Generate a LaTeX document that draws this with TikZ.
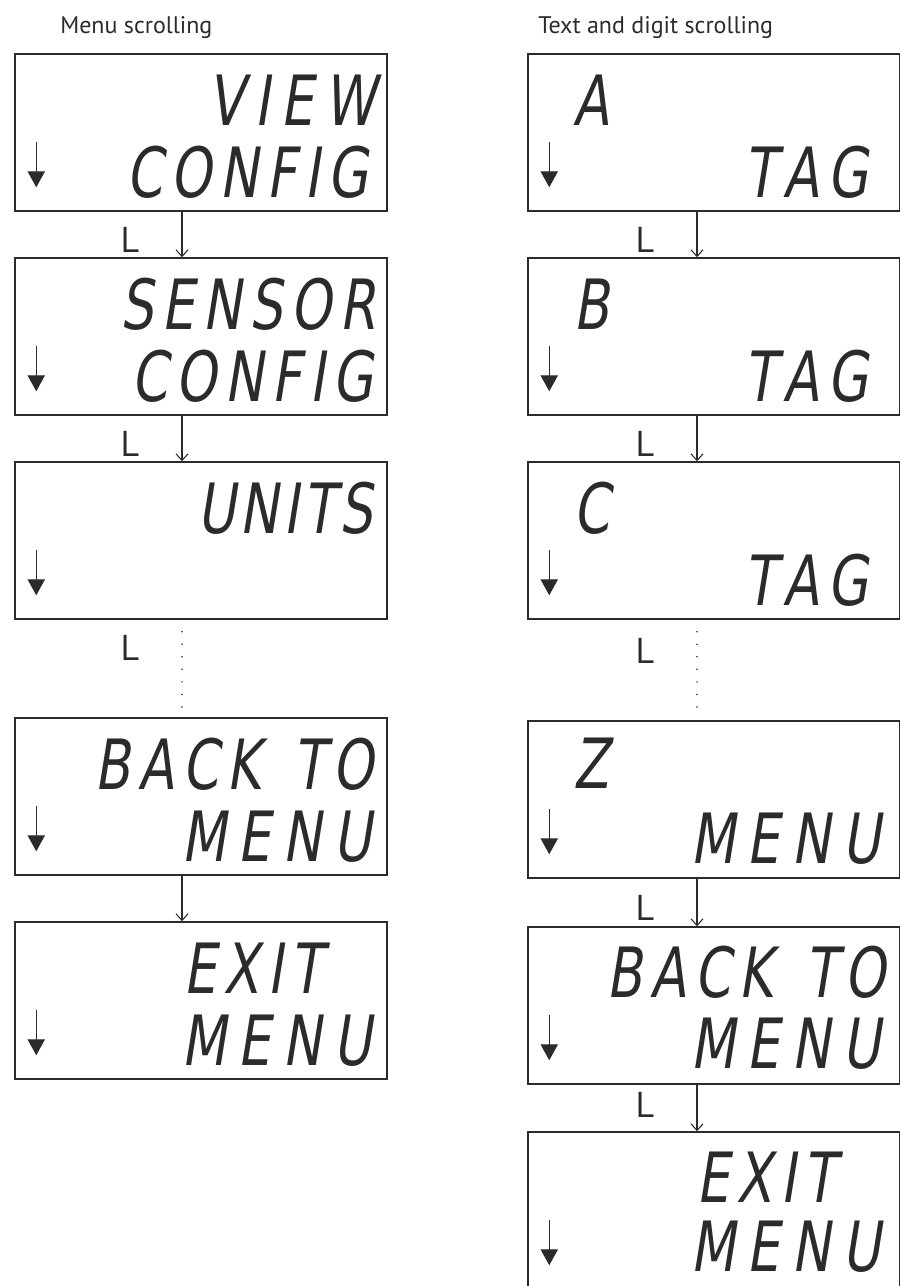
\documentclass[tikz,border=0pt]{standalone}
\usepackage{fontspec}
\setmainfont{PT Sans}
\usetikzlibrary{arrows.meta}
\IfFontExistsTF{FiraSans-ExtraLight.otf}
  {\newfontfamily\lcdfont{FiraSans-ExtraLight.otf}[FakeSlant=0.16,FakeStretch=0.75]}
  {\newfontfamily\lcdfont{DejaVu Sans}[FakeSlant=0.16,FakeStretch=0.75]}
\definecolor{ink}{HTML}{2B2B2B}
\newdimen\lcdgap \lcdgap=6pt
\def\lcd#1{\lcdA#1\relax}
\def\lcdA#1{#1\lcdB}
\def\lcdB#1{\ifx#1\relax\else\kern\lcdgap#1\expandafter\lcdB\fi}
\tikzset{
  disp/.style={draw=ink, line width=1.1pt, minimum width=279pt, minimum height=117.75pt, inner sep=0pt},
  lcdtext/.style={font=\lcdfont\fontsize{52}{52}\selectfont, inner sep=0pt, text=ink},
  title/.style={font=\fontsize{18}{20}\selectfont, inner sep=0pt, text=ink, anchor=base west},
  lab/.style={font=\fontsize{27}{29}\selectfont, inner sep=0pt, text=ink, anchor=base},
  conn/.style={draw=ink, line width=0.8pt, -{Straight Barb[length=5pt,width=9pt,line width=0.8pt]}},
  dotconn/.style={draw=ink, line width=1.3pt, line cap=round, dash pattern=on 0pt off 9.4pt},
  ind/.style={draw=ink, line width=0.9pt, -{Triangle[length=12pt,width=13pt]}}
}
\begin{document}
\begin{tikzpicture}[x=0.75pt,y=-0.75pt]
\clip (0,0) rectangle (900,1286);
\useasboundingbox (0,0) rectangle (900,1286);
\coordinate (cl) at (182,0);
\coordinate (cr) at (697,0);
% titles
\node[title] (t1) at (60,33) {Menu scrolling};
\node[title] (t2) at (538,33) {Text and digit scrolling};
% left boxes (centre x = 201)
\node[disp] (l1) at (201,132.5) {};
\node[disp] (l2) at (201,336.5) {};
\node[disp] (l3) at (201,540.5) {};
\node[disp] (l4) at (201,796.5) {};
\node[disp] (l5) at (201,1000.5) {};
% right boxes (centre x = 714)
\node[disp] (r1) at (714,132.5) {};
\node[disp] (r2) at (714,336.5) {};
\node[disp] (r3) at (714,540.5) {};
\node[disp] (r4) at (714,799.5) {};
\node[disp] (r5) at (714,1005.5) {};
\node[disp] (r6) at (714,1210.5) {};
% indicator arrows
\foreach \b in {l1,l2,l3,l4,l5,r1,r2,r3,r4,r5,r6}{
  \draw[ind] ([shift={(22,89)}]\b.north west) -- ([shift={(22,134)}]\b.north west);
}
% display texts, left
\node[lcdtext,anchor=base east] (l1a) at (376,125) {\lcdgap=8pt\lcd{VIEW}};
\node[lcdtext,anchor=base east] (l1b) at (368,197) {\lcd{CONFIG}};
\node[lcdtext,anchor=base east] (l2a) at (376,329) {\lcd{SENSOR}};
\node[lcdtext,anchor=base east] (l2b) at (373,401) {\lcd{CONFIG}};
\node[lcdtext,anchor=base east] (l3a) at (373,533) {\lcdgap=3.5pt\lcd{UNITS}};
\node[lcdtext,anchor=base east] (l4a) at (374,789) {\lcd{BACK\ TO}};
\node[lcdtext,anchor=base east] (l4b) at (372,861) {\lcdgap=9pt\lcd{MENU}};
\node[lcdtext,anchor=base east] (l5a) at (323,993) {\lcd{EXIT}};
\node[lcdtext,anchor=base east] (l5b) at (372,1065) {\lcdgap=9pt\lcd{MENU}};
% display texts, right
\node[lcdtext,anchor=base west] (r1a) at (573,125) {A};
\node[lcdtext,anchor=base east] (r1b) at (868,197) {\lcd{TAG}};
\node[lcdtext,anchor=base west] (r2a) at (573,329) {B};
\node[lcdtext,anchor=base east] (r2b) at (868,401) {\lcd{TAG}};
\node[lcdtext,anchor=base west] (r3a) at (573,533) {C};
\node[lcdtext,anchor=base east] (r3b) at (868,605) {\lcd{TAG}};
\node[lcdtext,anchor=base west] (r4a) at (573,788) {Z};
\node[lcdtext,anchor=base east] (r4b) at (881,863) {\lcdgap=9pt\lcd{MENU}};
\node[lcdtext,anchor=base east] (r5a) at (886,997) {\lcd{BACK\ TO}};
\node[lcdtext,anchor=base east] (r5b) at (881,1068) {\lcdgap=9pt\lcd{MENU}};
\node[lcdtext,anchor=base east] (r6a) at (836,1202) {\lcd{EXIT}};
\node[lcdtext,anchor=base east] (r6b) at (881,1271) {\lcdgap=9pt\lcd{MENU}};
% connectors, left
\draw[conn] (l1.south -| cl) -- (l2.north -| cl);
\draw[conn] (l2.south -| cl) -- (l3.north -| cl);
\draw[dotconn] ([yshift=-9pt]l3.south -| cl) -- ([yshift=7pt]l4.north -| cl);
\draw[conn] (l4.south -| cl) -- (l5.north -| cl);
% connectors, right
\draw[conn] (r1.south -| cr) -- (r2.north -| cr);
\draw[conn] (r2.south -| cr) -- (r3.north -| cr);
\draw[dotconn] ([yshift=-9pt]r3.south -| cr) -- ([yshift=7pt]r4.north -| cr);
\draw[conn] (r4.south -| cr) -- (r5.north -| cr);
\draw[conn] (r5.south -| cr) -- (r6.north -| cr);
% L labels
\node[lab] (L1) at (130,252) {L};
\node[lab] (L2) at (130,456) {L};
\node[lab] (L3) at (130,660) {L};
\node[lab] (L4) at (645,252) {L};
\node[lab] (L5) at (645,456) {L};
\node[lab] (L6) at (645,663) {L};
\node[lab] (L7) at (645,920) {L};
\node[lab] (L8) at (645,1117) {L};
\end{tikzpicture}
\end{document}
